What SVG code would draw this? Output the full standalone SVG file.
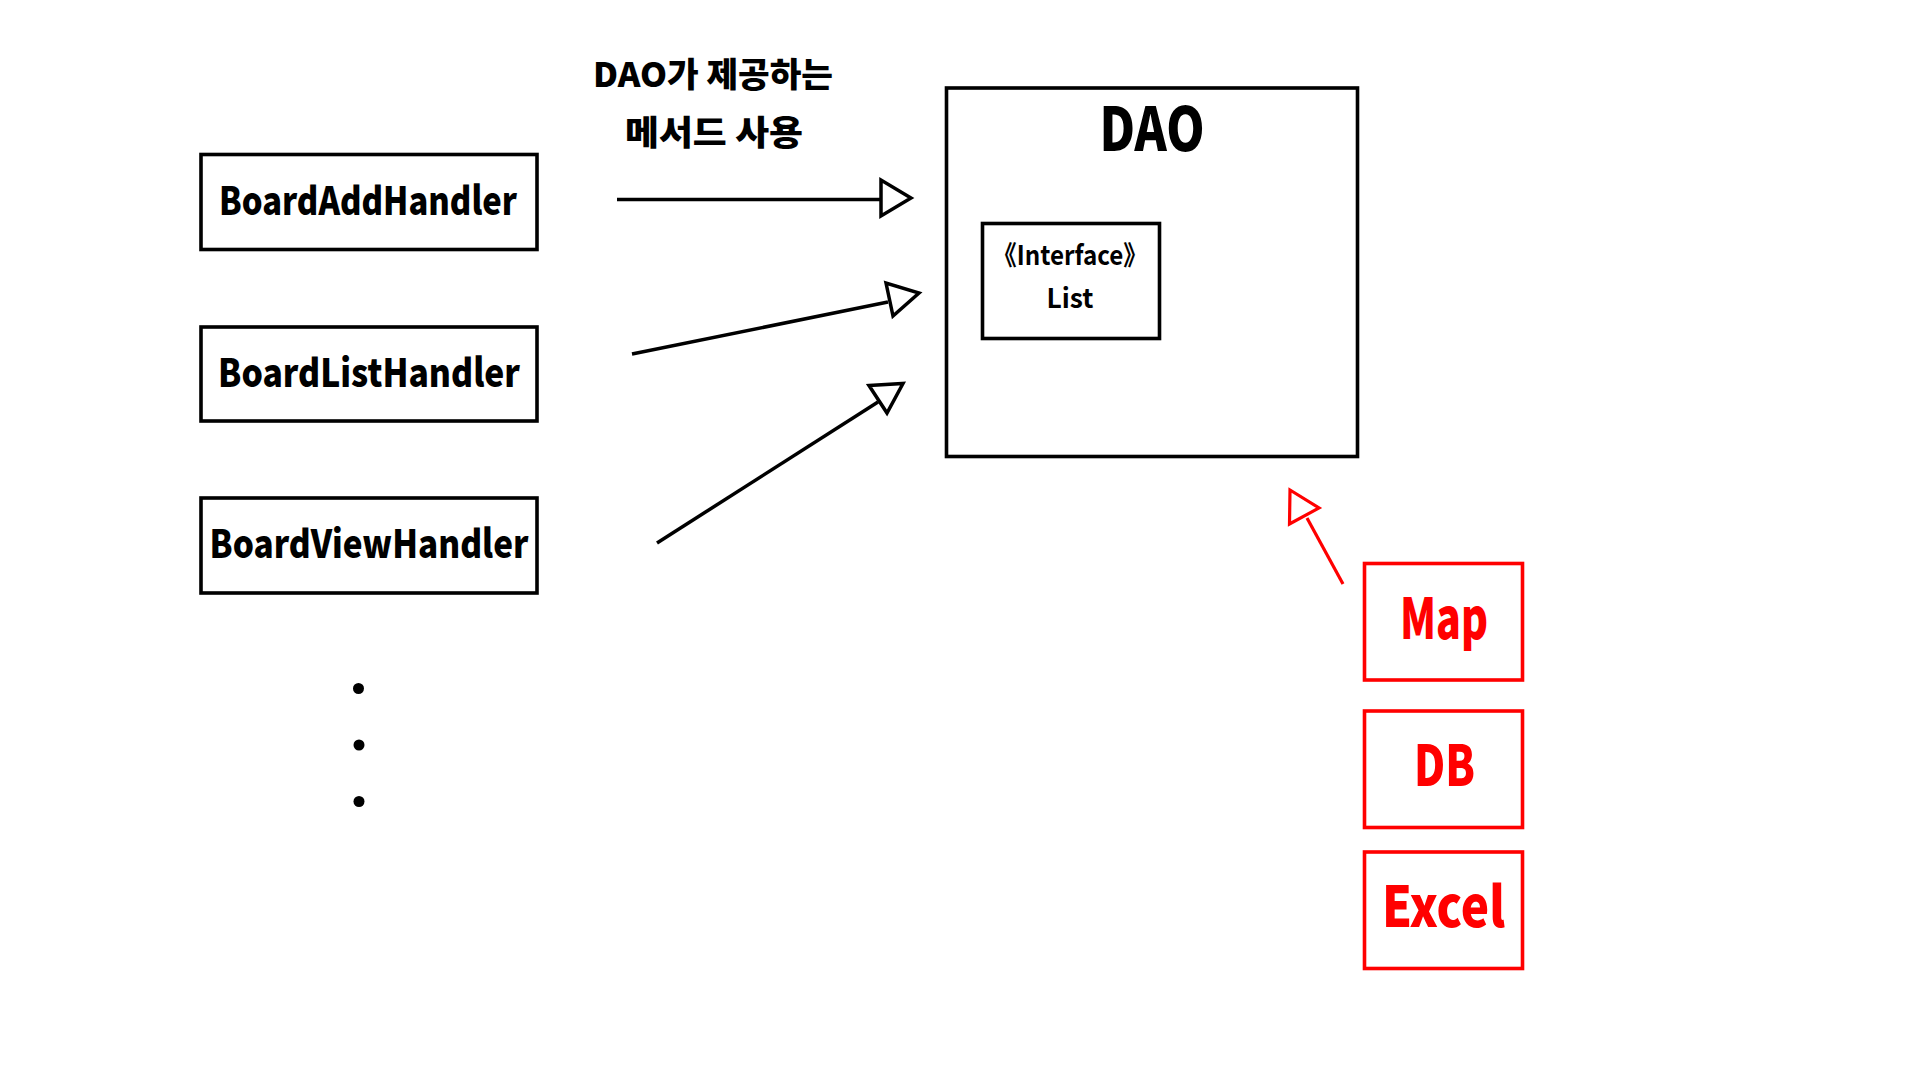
<svg xmlns="http://www.w3.org/2000/svg" width="1920" height="1080" viewBox="0 0 1920 1080">
  <style>
    .box { fill: #ffffff; stroke: #000000; stroke-width: 3.6; }
    .rbox { fill: #ffffff; stroke: #ff0000; stroke-width: 3.6; }
    .t { font-family: "Noto Sans CJK KR", "Noto Sans", "Liberation Sans", sans-serif; font-weight: 900; fill: #000000; text-anchor: middle; }
    .tm { font-family: "Noto Sans CJK KR", "Noto Sans", "Liberation Sans", sans-serif; font-weight: bold; fill: #000000; text-anchor: middle; }
    .rt { font-family: "Noto Sans CJK KR", "Noto Sans", "Liberation Sans", sans-serif; font-weight: 900; fill: #ff0000; text-anchor: middle; }
    .line { stroke: #000000; stroke-width: 3.5; fill: none; }
    .head { fill: #ffffff; stroke: #000000; stroke-width: 3.5; stroke-linejoin: miter; }
    .rline { stroke: #ff0000; stroke-width: 3.2; fill: none; }
    .rhead { fill: #ffffff; stroke: #ff0000; stroke-width: 3.2; stroke-linejoin: miter; }
  </style>
  <rect width="1920" height="1080" fill="#ffffff"/>

  <g id="label-uses">
    <text class="t" x="713" y="87" font-size="34" textLength="240" lengthAdjust="spacingAndGlyphs">DAO가 제공하는</text>
    <text class="t" x="714" y="145" font-size="34" textLength="178" lengthAdjust="spacingAndGlyphs">메서드 사용</text>
  </g>

  <g id="node-boardadd">
    <rect class="box" x="201" y="154.5" width="336" height="95"/>
    <text class="t" x="368" y="215" font-size="39" textLength="298" lengthAdjust="spacingAndGlyphs">BoardAddHandler</text>
  </g>
  <g id="node-boardlist">
    <rect class="box" x="201" y="327" width="336" height="94"/>
    <text class="t" x="369" y="387" font-size="39" textLength="302" lengthAdjust="spacingAndGlyphs">BoardListHandler</text>
  </g>
  <g id="node-boardview">
    <rect class="box" x="201" y="498" width="336" height="95"/>
    <text class="t" x="369" y="558" font-size="39" textLength="319" lengthAdjust="spacingAndGlyphs">BoardViewHandler</text>
  </g>

  <g id="ellipsis">
    <circle cx="358.5" cy="688.5" r="5.5" fill="#000000"/>
    <circle cx="359" cy="745" r="5.5" fill="#000000"/>
    <circle cx="359" cy="801.5" r="5.5" fill="#000000"/>
  </g>

  <g id="node-dao">
    <rect class="box" x="946.5" y="88" width="411" height="368.5"/>
    <text class="t" x="1152" y="151" font-size="60" textLength="105" lengthAdjust="spacingAndGlyphs">DAO</text>
  </g>
  <g id="node-list">
    <rect class="box" x="982.5" y="223.5" width="177" height="115"/>
    <text class="tm" x="1070" y="265" font-size="27" textLength="155" lengthAdjust="spacingAndGlyphs">《Interface》</text>
    <text class="tm" x="1070" y="308" font-size="27" textLength="47" lengthAdjust="spacingAndGlyphs">List</text>
  </g>

  <g id="node-map">
    <rect class="rbox" x="1364.5" y="563.5" width="158" height="116.5"/>
    <text class="rt" x="1444" y="639" font-size="56" textLength="88" lengthAdjust="spacingAndGlyphs">Map</text>
  </g>
  <g id="node-db">
    <rect class="rbox" x="1364.5" y="711" width="158" height="116.5"/>
    <text class="rt" x="1444.5" y="786" font-size="56" textLength="61" lengthAdjust="spacingAndGlyphs">DB</text>
  </g>
  <g id="node-excel">
    <rect class="rbox" x="1364.5" y="852" width="158" height="116.5"/>
    <text class="rt" x="1443.5" y="927" font-size="56" textLength="123" lengthAdjust="spacingAndGlyphs">Excel</text>
  </g>

  <g id="connectors">
    <line class="line" x1="617" y1="199.5" x2="881" y2="199.5"/>
    <polygon class="head" points="881,180 881,216 911,198"/>
    <line class="line" x1="632" y1="354" x2="888" y2="302"/>
    <polygon class="head" points="886,283 893,316 919,293"/>
    <line class="line" x1="657" y1="543" x2="878" y2="402"/>
    <polygon class="head" points="869,385.5 903,383.5 887,413"/>
    <line class="rline" x1="1343" y1="584" x2="1307" y2="518"/>
    <polygon class="rhead" points="1290,490 1289.5,524 1319,508"/>
  </g>
</svg>
